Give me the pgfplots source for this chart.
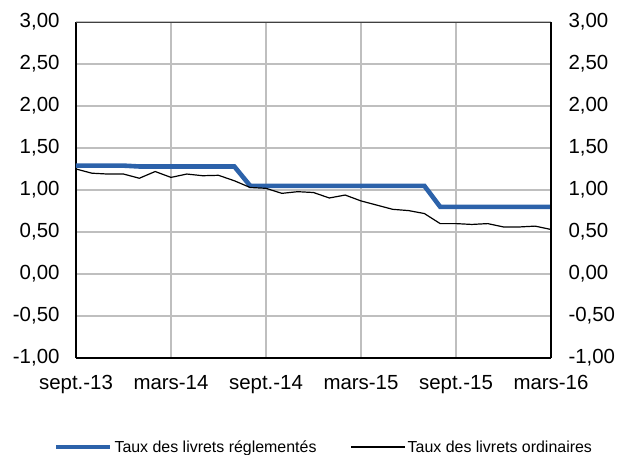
\documentclass[border=0pt]{standalone}
\usepackage{fontspec}
\setmainfont{Liberation Sans}
\usepackage{pgfplots}
\pgfplotsset{compat=1.18}
\definecolor{reg}{RGB}{44,98,170}
\definecolor{gridc}{RGB}{191,191,191}

% taux moyens mensuels, sept. 2013 (0) -> mars 2016 (30)
\pgfplotstableread{
m  reg   ord
0  1.29  1.25
1  1.29  1.20
2  1.29  1.19
3  1.29  1.19
4  1.28  1.14
5  1.28  1.22
6  1.28  1.15
7  1.28  1.19
8  1.28  1.17
9  1.28  1.175
10 1.28  1.11
11 1.05  1.03
12 1.05  1.02
13 1.05  0.96
14 1.05  0.98
15 1.05  0.97
16 1.05  0.905
17 1.05  0.94
18 1.05  0.87
19 1.05  0.82
20 1.05  0.77
21 1.05  0.755
22 1.05  0.72
23 0.80  0.60
24 0.80  0.60
25 0.80  0.59
26 0.80  0.60
27 0.80  0.56
28 0.80  0.56
29 0.80  0.57
30 0.80  0.53
}\taux

\pgfplotsset{
  frame/.style={
    scale only axis, width=475bp, height=336bp,
    at={(0,0)}, anchor=south west,
    xmin=0, xmax=30, ymin=-1, ymax=3,
    ytick={-1,-0.5,0,0.5,1,1.5,2,2.5,3},
    major tick length=0,
    /pgf/number format/.cd, use comma, fixed, fixed zerofill, precision=2,
    assume math mode=true,
  },
}

\begin{document}
\begin{tikzpicture}[font=\fontsize{20.5}{24}\selectfont]
\useasboundingbox (-76bp,-97bp) rectangle (545bp,358bp);
\begin{axis}[
  frame,
  axis x line*=bottom, axis y line*=left,
  x axis line style={-, black, line width=1.6bp},
  y axis line style={-, black, line width=1.6bp},
  xtick={0,6,...,30},
  xticklabels={sept.-13,mars-14,sept.-14,mars-15,sept.-15,mars-16},
  xticklabel style={yshift=-14bp},
  yticklabel style={xshift=-13bp},
  xmajorgrids, ymajorgrids,
  grid style={draw=gridc, line width=1.3bp},
  legend columns=2,
  legend style={at={(0.522,-0.265)}, anchor=center, draw=none, fill=none,
    font=\fontsize{16}{19}\selectfont,
    /tikz/every even column/.append style={column sep=32bp}},
  legend image code/.code={\draw[#1] (0bp,0bp) -- (54bp,0bp);},
]
\addplot[reg, line width=4.6bp] table[x=m, y=reg] {\taux};
\addplot[black, line width=1.2bp] table[x=m, y=ord] {\taux};
\legend{Taux des livrets réglementés, Taux des livrets ordinaires}
\end{axis}
\begin{axis}[
  frame,
  axis x line*=top, axis y line*=right,
  x axis line style={-, black!75, line width=0.8bp},
  y axis line style={-, black, line width=1.3bp},
  xtick=\empty,
  yticklabel style={xshift=14bp},
]
\end{axis}
\end{tikzpicture}
\end{document}
